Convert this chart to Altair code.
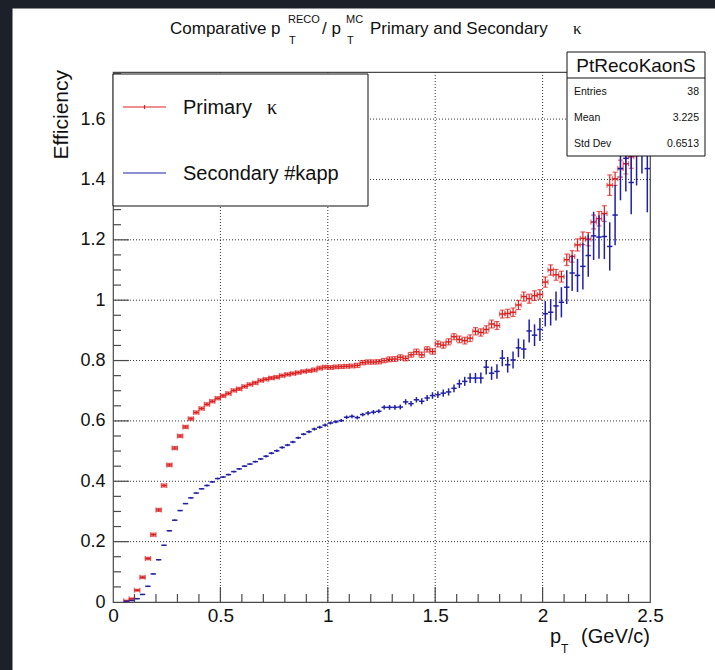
import altair as alt
import pandas as pd

# ---- binning: 0.025 GeV/c wide pT bins, first filled bin starts at 0.05 ----
PT_FIRST_LOW = 0.05
BIN_WIDTH = 0.025

# primary kaons: efficiency per bin and its uncertainty
primary_eff = [
    0.004, 0.011, 0.039, 0.082, 0.144, 0.223, 0.305, 0.386, 0.454, 0.510,
    0.550, 0.580, 0.607, 0.628, 0.641, 0.655, 0.665, 0.675, 0.683, 0.691,
    0.701, 0.706, 0.714, 0.721, 0.726, 0.734, 0.738, 0.742, 0.745, 0.750,
    0.754, 0.757, 0.760, 0.764, 0.766, 0.769, 0.775, 0.778, 0.777, 0.779,
    0.780, 0.781, 0.782, 0.784, 0.793, 0.795, 0.795, 0.796, 0.800, 0.804,
    0.805, 0.811, 0.807, 0.819, 0.829, 0.819, 0.837, 0.830, 0.855, 0.851,
    0.862, 0.879, 0.870, 0.866, 0.874, 0.897, 0.893, 0.903, 0.921, 0.916,
    0.954, 0.956, 0.960, 0.984, 1.012, 1.005, 1.015, 1.019, 1.060, 1.100,
    1.084, 1.078, 1.134, 1.145, 1.183, 1.205, 1.202, 1.259, 1.270, 1.287,
    1.381, 1.402, 1.436, 1.452, 1.475, 1.520, 1.560, 1.600,
]
primary_err = [
    0.002, 0.002, 0.003, 0.004, 0.004, 0.005, 0.005, 0.005, 0.005, 0.005,
    0.005, 0.005, 0.005, 0.005, 0.005, 0.005, 0.005, 0.005, 0.005, 0.005,
    0.005, 0.005, 0.005, 0.005, 0.005, 0.005, 0.005, 0.005, 0.005, 0.005,
    0.005, 0.005, 0.005, 0.005, 0.005, 0.006, 0.006, 0.006, 0.006, 0.006,
    0.006, 0.006, 0.006, 0.007, 0.007, 0.007, 0.007, 0.007, 0.007, 0.008,
    0.008, 0.008, 0.008, 0.008, 0.009, 0.009, 0.009, 0.009, 0.010, 0.010,
    0.010, 0.010, 0.011, 0.011, 0.011, 0.012, 0.012, 0.012, 0.013, 0.013,
    0.013, 0.014, 0.014, 0.015, 0.015, 0.015, 0.016, 0.016, 0.017, 0.017,
    0.018, 0.018, 0.019, 0.019, 0.020, 0.021, 0.022, 0.023, 0.024, 0.026,
    0.034, 0.022, 0.028, 0.034, 0.038, 0.042, 0.045, 0.048,
]

# secondary kaons
secondary_eff = [
    0.002, 0.005, 0.011, 0.025, 0.052, 0.093, 0.140, 0.188, 0.236, 0.271,
    0.303, 0.326, 0.345, 0.361, 0.375, 0.386, 0.398, 0.409, 0.414, 0.422,
    0.432, 0.441, 0.450, 0.457, 0.465, 0.474, 0.483, 0.493, 0.501, 0.512,
    0.520, 0.530, 0.544, 0.556, 0.564, 0.573, 0.579, 0.586, 0.593, 0.597,
    0.601, 0.612, 0.615, 0.611, 0.621, 0.626, 0.629, 0.632, 0.645, 0.645,
    0.645, 0.646, 0.663, 0.657, 0.670, 0.665, 0.676, 0.684, 0.687, 0.692,
    0.696, 0.708, 0.723, 0.731, 0.742, 0.742, 0.742, 0.778, 0.758, 0.764,
    0.808, 0.786, 0.802, 0.842, 0.838, 0.898, 0.884, 0.903, 0.955, 0.960,
    0.981, 0.993, 1.043, 1.090, 1.082, 1.112, 1.148, 1.213, 1.209, 1.211,
    1.178, 1.282, 1.436, 1.470, 1.390, 1.500, 1.550, 1.436,
]
secondary_err = [
    0.001, 0.001, 0.002, 0.002, 0.002, 0.002, 0.002, 0.002, 0.002, 0.002,
    0.002, 0.002, 0.002, 0.002, 0.002, 0.003, 0.003, 0.003, 0.003, 0.003,
    0.003, 0.003, 0.003, 0.003, 0.003, 0.003, 0.004, 0.004, 0.004, 0.004,
    0.004, 0.004, 0.004, 0.004, 0.005, 0.005, 0.005, 0.005, 0.005, 0.005,
    0.005, 0.006, 0.006, 0.006, 0.006, 0.007, 0.007, 0.007, 0.007, 0.008,
    0.008, 0.008, 0.009, 0.009, 0.009, 0.010, 0.010, 0.011, 0.011, 0.012,
    0.012, 0.013, 0.014, 0.015, 0.016, 0.017, 0.018, 0.024, 0.022, 0.024,
    0.027, 0.026, 0.028, 0.031, 0.032, 0.038, 0.036, 0.038, 0.042, 0.044,
    0.048, 0.050, 0.056, 0.060, 0.055, 0.077, 0.070, 0.080, 0.072, 0.075,
    0.080, 0.100, 0.105, 0.110, 0.105, 0.120, 0.130, 0.145,
]

# axis ticks and labels
x_labels = [0, 0.5, 1, 1.5, 2, 2.5]
x_major = [0.5, 1.0, 1.5, 2.0]
x_minor = [0.1, 0.2, 0.3, 0.4, 0.6, 0.7, 0.8, 0.9, 1.1, 1.2, 1.3, 1.4,
           1.6, 1.7, 1.8, 1.9, 2.1, 2.2, 2.3, 2.4]
y_labels = [0, 0.2, 0.4, 0.6, 0.8, 1, 1.2, 1.4, 1.6]
y_major = [0.2, 0.4, 0.6, 0.8, 1.0, 1.2, 1.4, 1.6]
y_minor = [0.05, 0.1, 0.15, 0.25, 0.3, 0.35, 0.45, 0.5, 0.55, 0.65, 0.7, 0.75,
           0.85, 0.9, 0.95, 1.05, 1.1, 1.15, 1.25, 1.3, 1.35, 1.45, 1.5, 1.55,
           1.65, 1.7, 1.75]

# stats box of the histogram
stats_name = "PtRecoKaonS"
stats_rows = [("Entries", "38"), ("Mean", "3.225"), ("Std Dev", "0.6513")]

SANS = "Liberation Sans"
SERIF = "Liberation Serif"
RED = "#dd1f1f"
BLUE = "#1f1fa8"
FRAME = "#4a4a4a"
W, H = 537, 530


def hist_frame(eff, err):
    rows = []
    for i, (e, s) in enumerate(zip(eff, err)):
        lo = PT_FIRST_LOW + i * BIN_WIDTH
        rows.append({"lo": lo, "hi": lo + BIN_WIDTH, "pt": lo + BIN_WIDTH / 2,
                     "eff": e, "elo": e - s, "ehi": e + s})
    return pd.DataFrame(rows)


prim = hist_frame(primary_eff, primary_err)
sec = hist_frame(secondary_eff, secondary_err)
one = pd.DataFrame({"k": [0]})

xs = alt.Scale(domain=[0, 2.5], nice=False, zero=False)
ys = alt.Scale(domain=[0, 1.756], nice=False, zero=False)

x_axis = alt.Axis(values=x_labels, labelExpr="format(datum.value, '~g')", grid=False,
                  ticks=False, tickSize=0, domain=False, labelFont=SANS, labelFontSize=19,
                  labelColor="#111", labelPadding=4, labelFlush=False, labelOverlap=False,
                  labelBound=False, title=None)
y_axis = alt.Axis(values=y_labels, labelExpr="format(datum.value, '~g')", grid=False,
                  ticks=False, tickSize=0, domain=False, labelFont=SANS, labelFontSize=18,
                  labelColor="#111", labelPadding=8, labelFlush=False, labelOverlap=False,
                  labelBound=False, title=None)


def X(field):
    return alt.X(field, type="quantitative", scale=xs, axis=x_axis)


def Y(field):
    return alt.Y(field, type="quantitative", scale=ys, axis=y_axis)


def text(txt, x, y, size, align="left", baseline="alphabetic", font=SANS, angle=0):
    return alt.Chart(one).mark_text(text=txt, align=align, baseline=baseline, fontSize=size,
                                    font=font, angle=angle, color="#111").encode(
        x=alt.value(x), y=alt.value(y))


def box(x1, x2, y1, y2, fill="white", stroke="#111"):
    return alt.Chart(one).mark_rect(fill=fill, stroke=stroke, strokeWidth=1).encode(
        x=alt.value(x1), x2=alt.value(x2), y=alt.value(y1), y2=alt.value(y2))


def seg(x1, x2, y1, y2, color, width=1.0):
    return alt.Chart(one).mark_rule(color=color, strokeWidth=width).encode(
        x=alt.value(x1), x2=alt.value(x2), y=alt.value(y1), y2=alt.value(y2))


# dotted grid
grid_x = alt.Chart(pd.DataFrame({"v": x_major})).mark_rule(
    color="#333", strokeWidth=1, strokeDash=[1, 2]).encode(x=X("v"))
grid_y = alt.Chart(pd.DataFrame({"v": y_major})).mark_rule(
    color="#333", strokeWidth=1, strokeDash=[1, 2]).encode(y=Y("v"))

# inward ticks on the bottom and left axes
tick_xM = alt.Chart(pd.DataFrame({"v": x_major})).mark_rule(color=FRAME, strokeWidth=1.2).encode(
    x=X("v"), y=alt.value(H), y2=alt.value(H - 15))
tick_xm = alt.Chart(pd.DataFrame({"v": x_minor})).mark_rule(color=FRAME, strokeWidth=1.2).encode(
    x=X("v"), y=alt.value(H), y2=alt.value(H - 8))
tick_yM = alt.Chart(pd.DataFrame({"v": y_major})).mark_rule(color=FRAME, strokeWidth=1.2).encode(
    y=Y("v"), x=alt.value(0), x2=alt.value(16))
tick_ym = alt.Chart(pd.DataFrame({"v": y_minor})).mark_rule(color=FRAME, strokeWidth=1.2).encode(
    y=Y("v"), x=alt.value(0), x2=alt.value(8))

# primary: error bars with end markers
p_base = alt.Chart(prim)
p_h = p_base.mark_rule(color=RED, strokeWidth=1.5, clip=True).encode(x=X("lo"), x2="hi", y=Y("eff"))
p_v = p_base.mark_rule(color=RED, strokeWidth=1.2, clip=True).encode(x=X("pt"), y=Y("elo"), y2="ehi")
p_el = p_base.mark_tick(color=RED, orient="vertical", size=5, thickness=1.2, clip=True).encode(
    x=X("lo"), y=Y("eff"))
p_er = p_base.mark_tick(color=RED, orient="vertical", size=5, thickness=1.2, clip=True).encode(
    x=X("hi"), y=Y("eff"))
p_eb = p_base.mark_tick(color=RED, orient="horizontal", size=5, thickness=1.2, clip=True).encode(
    x=X("pt"), y=Y("elo"))
p_et = p_base.mark_tick(color=RED, orient="horizontal", size=5, thickness=1.2, clip=True).encode(
    x=X("pt"), y=Y("ehi"))

# secondary: plain error bars
s_base = alt.Chart(sec)
s_h = s_base.mark_rule(color=BLUE, strokeWidth=1.5, clip=True).encode(x=X("lo"), x2="hi", y=Y("eff"))
s_v = s_base.mark_rule(color=BLUE, strokeWidth=1.5, clip=True).encode(x=X("pt"), y=Y("elo"), y2="ehi")

# legend
leg = [
    box(0, 255, 2, 134),
    seg(10, 53, 35, 35, RED, 1.2), seg(31.5, 31.5, 33, 37, RED, 1.2),
    text("Primary", 70, 42, 20), text("\u03ba", 154, 42, 20, font=SERIF),
    seg(10, 53, 101, 101, BLUE, 1.2),
    text("Secondary #kapp", 70, 108, 20),
]

# stats box
stats = [box(454, 592, -20, 84), seg(454, 592, 6, 6, "#111", 1),
         text(stats_name, 523, 0, 19, align="center")]
for i, (k, v) in enumerate(stats_rows):
    yy = 23 + 26 * i
    stats.append(text(k, 461, yy, 10.5))
    stats.append(text(v, 586, yy, 10.5, align="right"))

# title with super/subscripts
title = [
    text("Comparative p", 57, -38, 17),
    text("RECO", 175, -49, 11), text("T", 176, -28, 11),
    text("/ p", 209, -38, 17),
    text("MC", 233, -49, 11), text("T", 234, -28, 11),
    text("Primary and Secondary", 257, -38, 17),
    text("\u03ba", 460, -38, 17, font=SERIF),
]

# axis titles
axis_titles = [
    text("Efficiency", -51, -2, 21, align="right", baseline="middle", angle=270),
    text("p", 437, 571, 20), text("T", 448, 581, 12),
    text("(GeV/c)", 537, 571, 20, align="right"),
]

# dark window edges on the left and top
edges = [box(-113, -101, -72, 598, fill="#1c2029", stroke="#1c2029"),
         box(-113, 602, -72, -64, fill="#1c2029", stroke="#1c2029")]

chart = alt.layer(
    grid_x, grid_y,
    p_h, p_v, p_el, p_er, p_eb, p_et,
    s_h, s_v,
    tick_xM, tick_xm, tick_yM, tick_ym,
    *leg, *stats, *title, *axis_titles, *edges,
).properties(
    width=W, height=H,
    autosize=alt.AutoSizeParams(type="none"),
    padding={"left": 113, "top": 72, "right": 65, "bottom": 68},
).configure(
    background="white",
).configure_view(
    stroke=FRAME, strokeWidth=1.2, fill="white",
)

chart.save("out.html", embed_options={"renderer": "svg", "actions": False})
